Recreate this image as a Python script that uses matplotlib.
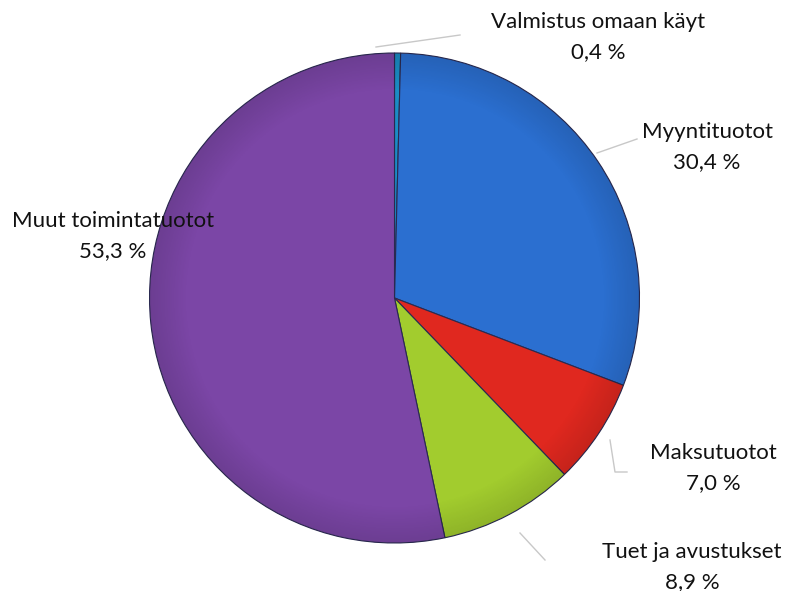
import matplotlib
matplotlib.use("Agg")
import matplotlib.pyplot as plt
import numpy as np
from matplotlib.patches import Circle

labels = ["Valmistus omaan käyt", "Myyntituotot", "Maksutuotot", "Tuet ja avustukset", "Muut toimintatuotot"]
values = [0.4, 30.4, 7.0, 8.9, 53.3]
value_texts = ["0,4 %", "30,4 %", "7,0 %", "8,9 %", "53,3 %"]
colors = ["#1b8cc4", "#2b6fd0", "#e0281f", "#a2cc2e", "#7b46a6"]

W, H = 787, 591
cx, cy, r = 394.5, 298.0, 245.0

fig = plt.figure(figsize=(W / 100, H / 100), dpi=100)
ax = fig.add_axes([(cx - r) / W, (H - cy - r) / H, 2 * r / W, 2 * r / H])

ax.pie(values, colors=colors, startangle=90, counterclock=False, radius=1.0,
       wedgeprops=dict(edgecolor="#2a2a50", linewidth=0.8))

# subtle rim shading overlay
gx, gy = np.meshgrid(np.linspace(-1, 1, 300), np.linspace(-1, 1, 300))
rr = np.sqrt(gx ** 2 + gy ** 2)
shade = np.zeros((300, 300, 4))
shade[..., 3] = np.clip((rr - 0.85) / 0.15, 0, 1) * 0.12
im = ax.imshow(shade, extent=(-1, 1, -1, 1), origin="lower", zorder=3)
im.set_clip_path(Circle((0, 0), 1.0, transform=ax.transData))

ax.set_xlim(-1, 1)
ax.set_ylim(-1, 1)
ax.set_aspect("equal")
ax.axis("off")

def d(px, py):
    return ((px - cx) / r, (cy - py) / r)

# label positions (pixel centers) -> data
label_pos = [d(598, 37), d(707, 147), d(713, 468), d(692, 567), d(113, 236)]
for lab, vt, (x, y) in zip(labels, value_texts, label_pos):
    ax.text(x, y, lab + "\n" + vt, ha="center", va="center", fontsize=16,
            family="Lato", color="#111111", linespacing=1.58, clip_on=False,
            zorder=5)

leaders = [
    [d(376, 47), d(460, 35)],
    [d(597, 153), d(637, 139)],
    [d(610, 440), d(615, 472), d(627, 472)],
    [d(520, 533), d(545, 560)],
]
for pts in leaders:
    xs, ys = zip(*pts)
    ax.plot(xs, ys, color="#c8c8c8", lw=1.0, clip_on=False)

fig.savefig("out.png", dpi=100)
